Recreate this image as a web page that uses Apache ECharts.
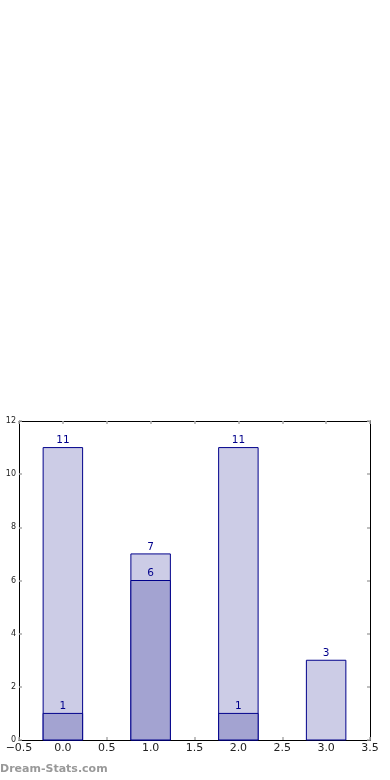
<!DOCTYPE html>
<html><head><meta charset="utf-8">
<script src="https://cdn.jsdelivr.net/npm/echarts@6/dist/echarts.min.js"></script>
<style>html,body{margin:0;padding:0;background:#fff}#c{width:390px;height:780px}</style>
</head><body><div id="c"></div>
<script>
const positions = [0, 1, 2, 3];
const totals = [11, 7, 11, 3];
const parts = [1, 6, 1, 0];
const xTicks = [-0.5, 0, 0.5, 1, 1.5, 2, 2.5, 3, 3.5];
const yTicks = [0, 2, 4, 6, 8, 10, 12];
const barW = 0.45;

const chart = echarts.init(document.getElementById('c'));
function rectItem(color) {
  return function (params, api) {
    const x = api.value(0), v = api.value(1);
    const p1 = api.coord([x - barW / 2, v]);
    const p2 = api.coord([x + barW / 2, 0]);
    const children = [];
    if (v > 0) {
      children.push({
        type: 'rect',
        shape: { x: p1[0], y: p1[1], width: p2[0] - p1[0], height: p2[1] - p1[1] },
        style: { fill: color, stroke: '#00008B', lineWidth: 1 }
      });
      children.push({
        type: 'text',
        style: { text: String(v), x: (p1[0] + p2[0]) / 2, y: p1[1] - 1.5, align: 'center', verticalAlign: 'bottom',
          fill: '#00008B', fontSize: 10.5, fontFamily: 'DejaVu Sans' }
      });
    }
    return { type: 'group', children: children };
  };
}
const fmt = v => String(v).replace('-', '\u2212');
const tickStyle = { show: true, inside: true, length: 3, lineStyle: { color: '#aaaaaa', width: 1.5 } };
chart.setOption({
  animation: false,
  backgroundColor: '#fff',
  grid: { left: 19, right: 20, top: 421, bottom: 40, show: false },
  xAxis: [
    { type: 'value', min: -0.5, max: 3.5, interval: 0.5, position: 'bottom',
      axisLine: { show: true, onZero: false, lineStyle: { color: '#000', width: 1 } },
      axisTick: tickStyle, splitLine: { show: false },
      axisLabel: { formatter: v => fmt(xTicks.includes(v) ? v.toFixed(1) : v), color: '#222', fontSize: 11, fontFamily: 'DejaVu Sans', margin: 3, showMinLabel: true, showMaxLabel: true } },
    { type: 'value', min: -0.5, max: 3.5, interval: 0.5, position: 'top',
      axisLine: { show: true, onZero: false, lineStyle: { color: '#000', width: 1 } },
      axisTick: tickStyle, splitLine: { show: false }, axisLabel: { show: false } }
  ],
  yAxis: [
    { type: 'value', min: 0, max: 12, interval: 2, position: 'left',
      axisLine: { show: true, onZero: false, lineStyle: { color: '#000', width: 1 } },
      axisTick: tickStyle, splitLine: { show: false },
      axisLabel: { color: '#222', fontSize: 8, fontFamily: 'DejaVu Sans', margin: 3 } },
    { type: 'value', min: 0, max: 12, interval: 2, position: 'right',
      axisLine: { show: true, onZero: false, lineStyle: { color: '#000', width: 1 } },
      axisTick: tickStyle, splitLine: { show: false }, axisLabel: { show: false } }
  ],
  series: [
    { type: 'custom', renderItem: rectItem('#CCCCE6'), data: positions.map((p, i) => [p, totals[i]]), z: 2 },
    { type: 'custom', renderItem: rectItem('#A3A3D1'), data: positions.map((p, i) => [p, parts[i]]), z: 3 }
  ],
  graphic: [
    { type: 'text', left: 0, top: 764, style: { text: 'Dream-Stats.com', fill: '#999999', fontSize: 11, fontWeight: 'bold', fontFamily: 'DejaVu Sans' } }
  ]
});
</script></body></html>
